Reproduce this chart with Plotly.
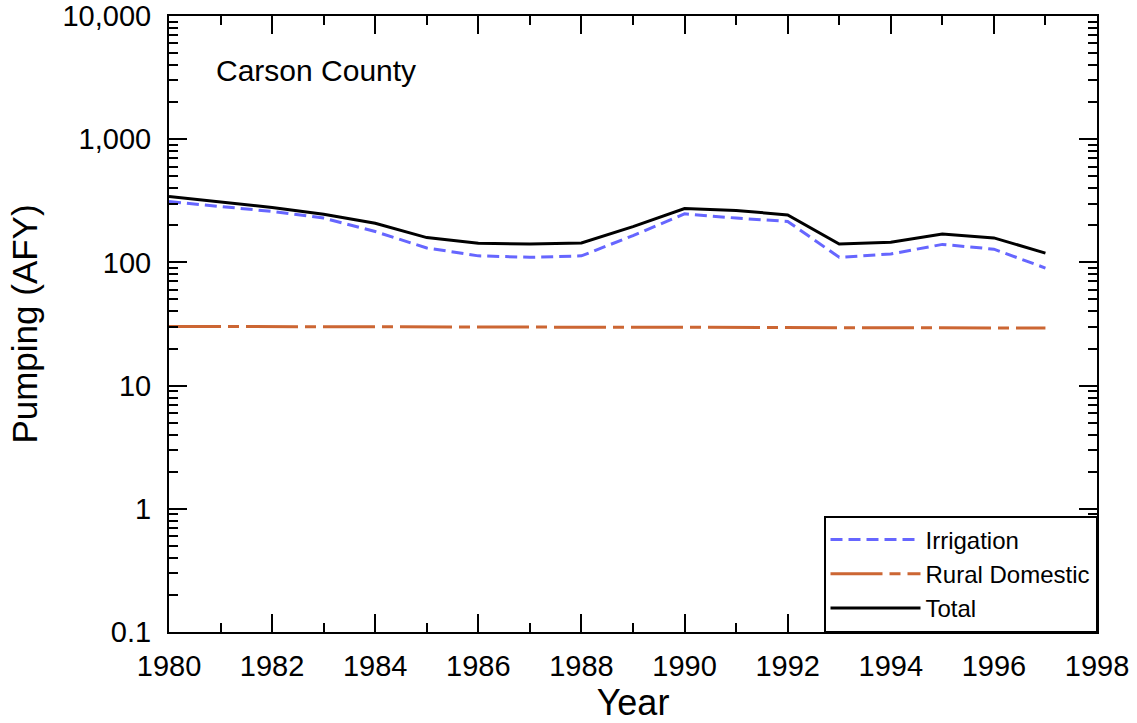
import plotly.graph_objects as go

years = list(range(1980, 1998))
irrigation = [312, 284, 259, 229, 178, 131, 113, 110, 113, 165, 248, 229, 215, 110, 117, 140, 128, 90]
rural_domestic = [30.2, 30.1, 30.1, 30.0, 30.0, 30.0, 29.9, 29.9, 29.8, 29.8, 29.7, 29.7, 29.7, 29.6, 29.6, 29.5, 29.5, 29.3]
total = [342, 308, 279, 246, 208, 159, 143, 141, 144, 195, 274, 264, 243, 141, 146, 170, 158, 119]

y_tickvals = [0.1, 1, 10, 100, 1000, 10000]
y_ticktext = ["0.1", "1", "10", "100", "1,000", "10,000"]
x_tickvals = list(range(1980, 1999, 2))

FONT = "Liberation Sans, Arial, sans-serif"

fig = go.Figure()
fig.add_trace(go.Scatter(x=years, y=irrigation, mode="lines", name="Irrigation",
                         line=dict(color="#6666FF", width=3, dash="12px,6px")))
fig.add_trace(go.Scatter(x=years, y=rural_domestic, mode="lines", name="Rural Domestic",
                         line=dict(color="#CC6633", width=3, dash="52px,7px,11px,7px")))
fig.add_trace(go.Scatter(x=years, y=total, mode="lines", name="Total",
                         line=dict(color="black", width=3)))

fig.update_layout(
    width=1137, height=723,
    margin=dict(l=169, r=40, t=16, b=91, autoexpand=False),
    paper_bgcolor="white", plot_bgcolor="white",
    font=dict(family=FONT, color="black", size=29),
    legend=dict(x=1, y=0, xanchor="right", yanchor="bottom",
                bordercolor="black", borderwidth=1.5, bgcolor="white",
                font=dict(size=24, family=FONT), itemwidth=90,
                tracegroupgap=0),
    annotations=[dict(text="Carson County", x=0.048, y=0.912, xref="paper", yref="paper",
                      xanchor="left", yanchor="middle", showarrow=False,
                      font=dict(size=30, family=FONT))],
)

fig.update_xaxes(
    range=[1980, 1998], tickvals=x_tickvals, ticks="inside", ticklen=18, tickwidth=2,
    tickcolor="black", showline=True, linecolor="black", linewidth=2, mirror="ticks",
    showgrid=False, zeroline=False, tickfont=dict(size=29), automargin=False,
    ticklabelstandoff=7, ticklabeloverflow="allow",
    minor=dict(dtick=1, tick0=1980, ticks="inside", ticklen=9, tickwidth=2, tickcolor="black", showgrid=False),
    title=dict(text="Year", font=dict(size=36), standoff=0),
)
fig.update_yaxes(
    type="log", range=[-1, 4], tickvals=y_tickvals, ticktext=y_ticktext,
    ticks="inside", ticklen=18, tickwidth=2, tickcolor="black",
    showline=True, linecolor="black", linewidth=2, mirror="ticks",
    showgrid=False, zeroline=False, tickfont=dict(size=29), automargin=False,
    ticklabelstandoff=10, ticklabeloverflow="allow",
    minor=dict(dtick="D1", ticks="inside", ticklen=9, tickwidth=2, tickcolor="black", showgrid=False),
    title=dict(text="Pumping (AFY)", font=dict(size=35), standoff=14),
)

fig.write_html("out.html", config={"displayModeBar": False},
               post_script="document.body.style.margin='0';")
